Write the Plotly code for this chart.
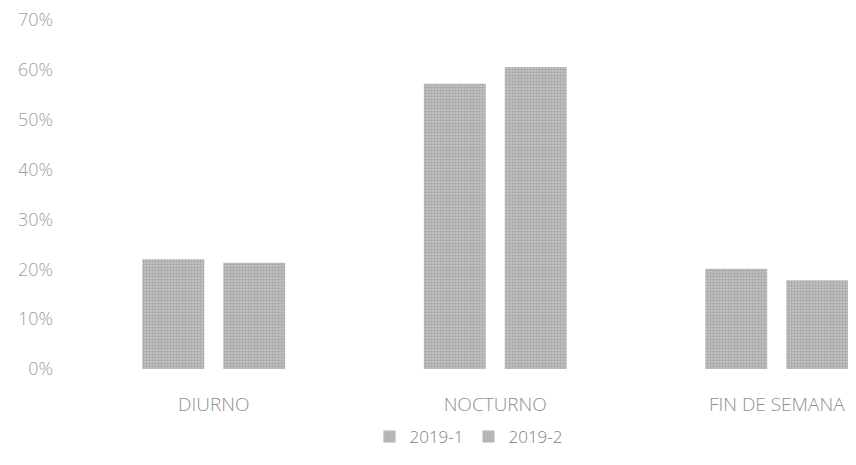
import plotly.graph_objects as go

categories = ["DIURNO", "NOCTURNO", "FIN DE SEMANA"]
series_names = ["2019-1", "2019-2"]
values_2019_1 = [0.22, 0.572, 0.201]
values_2019_2 = [0.213, 0.606, 0.178]
y_ticks = [0, 0.1, 0.2, 0.3, 0.4, 0.5, 0.6, 0.7]
y_tick_labels = ["0%", "10%", "20%", "30%", "40%", "50%", "60%", "70%"]

font_family = "Open Sans, Liberation Sans, sans-serif"
marker_style = dict(
    color="#b0b0b0",
    pattern=dict(shape=".", fgcolor="#858585", bgcolor="#c6c6c6", size=3, solidity=0.5),
    line=dict(width=0),
)

fig = go.Figure()
for name, vals in zip(series_names, [values_2019_1, values_2019_2]):
    fig.add_trace(go.Bar(x=categories, y=vals, name=name, marker=marker_style))

fig.update_layout(
    width=856,
    height=465,
    barmode="group",
    bargap=0.425,
    bargroupgap=0.235,
    paper_bgcolor="white",
    plot_bgcolor="white",
    margin=dict(l=65, r=0, t=12, b=104),
    font=dict(family=font_family, color="#9a9a9a", size=16, weight=300),
    showlegend=True,
    legend=dict(
        orientation="h",
        x=0.5,
        xanchor="center",
        y=-0.195,
        yanchor="middle",
        font=dict(size=17, color="#808080"),
        itemwidth=30,
    ),
    xaxis=dict(
        range=[-0.5, 2.31],
        showgrid=False,
        showline=False,
        zeroline=False,
        ticks="",
        ticklabelstandoff=22,
        tickfont=dict(size=19, color="#8f8f8f"),
    ),
    yaxis=dict(
        range=[0, 0.7001],
        tickvals=y_ticks,
        ticktext=y_tick_labels,
        showgrid=False,
        zeroline=False,
        showline=False,
        ticks="",
        ticklabelstandoff=19,
        ticklabeloverflow="allow",
        tickfont=dict(size=18, color="#a0a0a0"),
    ),
)

fig.write_html("out.html")
